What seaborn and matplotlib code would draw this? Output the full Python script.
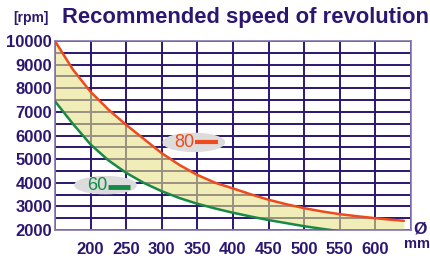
import numpy as np
import pandas as pd
import matplotlib
matplotlib.use("Agg")
import matplotlib.pyplot as plt
from matplotlib.patches import Ellipse
import seaborn as sns

# values (diameter in mm, speed in rpm)
diam_80 = [150, 175, 200, 225, 250, 275, 300, 325, 350, 375, 400, 425, 450, 475,
           500, 525, 550, 575, 600, 620, 640]
rpm_80 = [10000, 8800, 7850, 7100, 6450, 5850, 5250, 4750, 4330, 4000, 3760, 3510,
          3280, 3090, 2925, 2785, 2670, 2580, 2500, 2440, 2390]
diam_60 = [150, 175, 200, 225, 250, 275, 300, 325, 350, 375, 400, 425, 450, 475,
           500, 525, 550]
rpm_60 = [7450, 6500, 5620, 4950, 4420, 3990, 3640, 3350, 3110, 2910, 2730, 2570,
          2420, 2290, 2160, 2050, 1950]

x_ticks = [200, 250, 300, 350, 400, 450, 500, 550, 600]
y_ticks = [2000, 3000, 4000, 5000, 6000, 7000, 8000, 9000, 10000]

purple = "#2b1670"
orange = "#ef4a1c"
green = "#178a45"

sns.set_style("white")
plt.rcParams['font.family'] = ['Liberation Sans', 'DejaVu Sans']

fig = plt.figure(figsize=(4.31, 2.56), dpi=100)
ax = fig.add_axes([0.1276, 0.1016, 0.826, 0.738])

df80 = pd.DataFrame({"d": diam_80, "rpm": rpm_80})
df60 = pd.DataFrame({"d": diam_60, "rpm": rpm_60})

# grid
for xv in np.arange(150, 651, 50):
    ax.axvline(xv, color=purple, lw=1.4, zorder=1)
for yv in np.arange(2000, 10001, 500):
    ax.axhline(yv, color=purple, lw=1.4, zorder=1)

# band between the two curves
grid_d = np.linspace(150, 640, 300)
top = np.interp(grid_d, diam_80, rpm_80)
low = np.interp(grid_d, diam_60, rpm_60, right=1950)
low = np.maximum(low, 2000)
ax.fill_between(grid_d, low, top, color="#e6e28a", alpha=0.6, lw=0, zorder=2)

sns.lineplot(data=df80, x="d", y="rpm", color=orange, lw=1.8, ax=ax, zorder=3)
sns.lineplot(data=df60, x="d", y="rpm", color=green, lw=1.8, ax=ax, zorder=3)

# curve labels
ax.add_patch(Ellipse((345, 5710), 86, 760, color="#dcdcdc", zorder=4))
ax.text(332, 5710, "80", color=orange, fontsize=13, ha="center", va="center", zorder=5)
ax.plot([346, 379], [5710, 5710], color=orange, lw=3, solid_capstyle="butt", zorder=5)
ax.add_patch(Ellipse((221, 3900), 86, 720, color="#dcdcdc", zorder=4))
ax.text(210, 3900, "60", color=green, fontsize=13, ha="center", va="center", zorder=5)
ax.plot([224, 255], [3830, 3830], color=green, lw=3.5, solid_capstyle="butt", zorder=5)

ax.set_xlim(150, 650)
ax.set_ylim(2000, 10000)
ax.set_xticks(x_ticks)
ax.set_yticks(y_ticks)
ax.set_xticklabels([str(v) for v in x_ticks])
ax.set_yticklabels([str(v) for v in y_ticks])
ax.tick_params(axis="both", length=0, labelsize=12, colors=purple)
ax.tick_params(axis="x", pad=9)
ax.tick_params(axis="y", pad=2)
for lab in ax.get_xticklabels() + ax.get_yticklabels():
    lab.set_fontweight("bold")
ax.set_xlabel("")
ax.set_ylabel("")
for s in ax.spines.values():
    s.set_color("#8878b0")
    s.set_linewidth(1.2)

fig.text(13 / 431, 1 - 18 / 256, "[rpm]", color=purple, fontsize=10, fontweight="bold",
         ha="left", va="center")
fig.text(62 / 431, 1 - 18 / 256, "Recommended speed of revolution", color=purple,
         fontsize=15.8, fontweight="bold", ha="left", va="center")
fig.text(420 / 431, 1 - 229 / 256, "Ø", color=purple, fontsize=12.5, fontweight="bold",
         ha="center", va="center")
fig.text(430 / 431, 1 - 244 / 256, "mm", color=purple, fontsize=10.5, fontweight="bold",
         ha="right", va="center", bbox=dict(facecolor="white", edgecolor="none", pad=0))

fig.savefig("out.png", dpi=100)
